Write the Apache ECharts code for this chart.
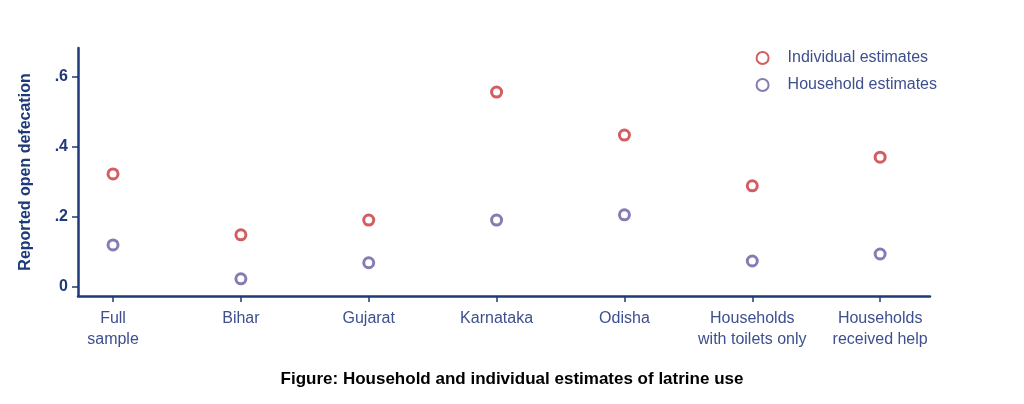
<!DOCTYPE html><html><head><meta charset="utf-8"><script src="https://cdn.jsdelivr.net/npm/echarts@6/dist/echarts.min.js"></script></head><body style="margin:0"><div id="c" style="width:1024px;height:404px"></div><script>
const categories=["Full\nsample","Bihar","Gujarat","Karnataka","Odisha","Households\nwith toilets only","Households\nreceived help"];
const individual=[0.323,0.149,0.191,0.557,0.434,0.289,0.371];
const household=[0.12,0.023,0.069,0.191,0.206,0.074,0.094];
const yTicks=[0,0.2,0.4,0.6];
const yTickLabels=["0",".2",".4",".6"];
const axisCol="#1f3a7a",txt="#3d4f8e";
const ch=echarts.init(document.getElementById('c'));
ch.setOption({
 animation:false,
 grid:{left:78,right:94,top:48,bottom:108},
 title:{text:"Figure: Household and individual estimates of latrine use",left:'center',top:366,textStyle:{fontFamily:'Liberation Sans',fontWeight:'bold',fontSize:17,color:'#000'}},
 legend:{right:82,top:45,orient:'vertical',itemGap:11,itemWidth:12,itemHeight:12,textStyle:{color:txt,fontSize:16,fontFamily:'Liberation Sans',padding:[0,0,0,14]},data:["Individual estimates","Household estimates"]},
 xAxis:{type:'value',min:-0.274,max:6.39,splitLine:{show:false},
  axisLine:{onZero:false,lineStyle:{color:axisCol,width:2.5}},
  axisTick:{customValues:categories.map((c,i)=>i),lineStyle:{color:axisCol,width:1.5},length:6},
  axisLabel:{customValues:categories.map((c,i)=>i),formatter:v=>categories[Math.round(v)],color:txt,fontSize:16,fontFamily:'Liberation Sans',margin:12,lineHeight:21}},
 yAxis:{type:'value',min:-0.026,max:0.683,splitLine:{show:false},
  name:"Reported open defecation",nameLocation:'middle',nameGap:44,nameTextStyle:{color:axisCol,fontWeight:'bold',fontSize:16,fontFamily:'Liberation Sans'},
  axisLine:{show:true,onZero:false,lineStyle:{color:axisCol,width:2.5}},
  axisTick:{show:true,customValues:yTicks,lineStyle:{color:axisCol,width:1.5},length:6},
  axisLabel:{customValues:yTicks,formatter:v=>yTickLabels[yTicks.findIndex(t=>Math.abs(t-v)<1e-6)],color:axisCol,fontWeight:'bold',fontSize:16,fontFamily:'Liberation Sans',margin:10}},
 series:[
  {name:"Individual estimates",type:'scatter',symbol:'circle',symbolSize:10,data:individual.map((v,i)=>[i,v]),itemStyle:{color:'#fff',borderColor:'#c8363a',borderWidth:3}},
  {name:"Household estimates",type:'scatter',symbol:'circle',symbolSize:10,data:household.map((v,i)=>[i,v]),itemStyle:{color:'#fff',borderColor:'#6a5aa0',borderWidth:3}}
 ]
});
</script></body></html>
